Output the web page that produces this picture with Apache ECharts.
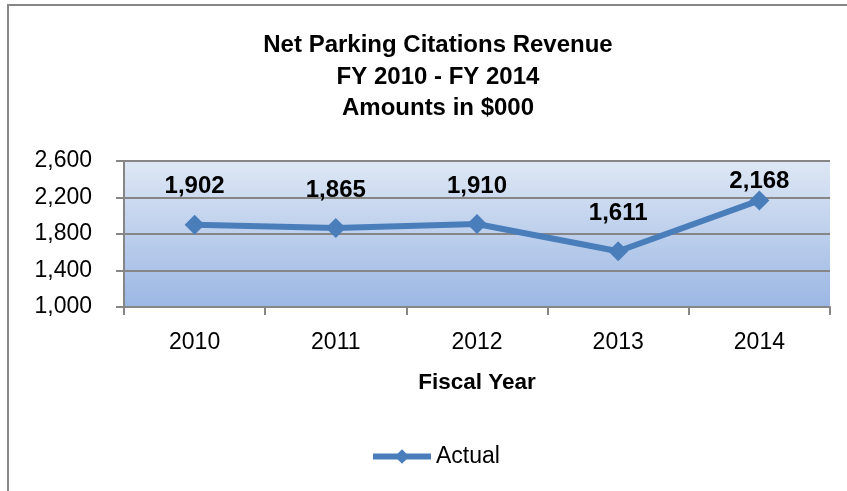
<!DOCTYPE html>
<html><head><meta charset="utf-8">
<script src="https://cdn.jsdelivr.net/npm/echarts@6/dist/echarts.min.js"></script>
<style>html,body{margin:0;padding:0;background:#fff}#c{width:847px;height:491px}</style>
</head><body><div id="c"></div>
<script>
const categories = ['2010','2011','2012','2013','2014'];
const actual = [1902, 1865, 1910, 1611, 2168];
const labelOffsets = [0, 0, 0, 0, 1]; // index flags: 1 = label drawn closer
const yMin = 1000, yMax = 2600, yStep = 400;
const titleLines = ['Net Parking Citations Revenue', 'FY 2010 - FY 2014', 'Amounts in $000'];
const xName = 'Fiscal Year';
const seriesName = 'Actual';

const FONT = '"Liberation Sans", Arial, sans-serif';
const chart = echarts.init(document.getElementById('c'), null, {renderer: 'canvas'});
chart.setOption({
  animation: false,
  backgroundColor: '#fff',
  graphic: [{
    type: 'rect', shape: {x: 8, y: 5, width: 860, height: 500},
    style: {fill: 'none', stroke: '#868686', lineWidth: 2}, silent: true, z: -1
  }],
  title: {
    text: titleLines.join('\n'), left: 433, top: 25, textAlign: 'center',
    textStyle: {fontFamily: FONT, fontSize: 24, fontWeight: 'bold', color: '#000', lineHeight: 31.5, align: 'center'}
  },
  legend: {
    data: [seriesName], bottom: 18, left: 365, itemWidth: 58, itemHeight: 18, itemGap: 3,
    lineStyle: {width: 6},
    textStyle: {fontFamily: FONT, fontSize: 23, color: '#000'}
  },
  grid: {
    left: 124, right: 17, top: 161, bottom: 184, show: true, borderWidth: 0,
    backgroundColor: new echarts.graphic.LinearGradient(0, 0, 0, 1, [
      {offset: 0, color: '#dee7f4'}, {offset: 1, color: '#9bb7e4'}
    ])
  },
  xAxis: {
    type: 'category', data: categories, boundaryGap: true,
    name: xName, nameLocation: 'middle', nameGap: 64,
    nameTextStyle: {fontFamily: FONT, fontSize: 22.5, fontWeight: 'bold', color: '#000'},
    axisLine: {lineStyle: {color: '#868686', width: 2}},
    axisTick: {show: true, length: 8, lineStyle: {color: '#868686', width: 2}},
    axisLabel: {fontFamily: FONT, fontSize: 23, color: '#000', margin: 24}
  },
  yAxis: {
    type: 'value', min: yMin, max: yMax, interval: yStep,
    axisLine: {show: true, lineStyle: {color: '#868686', width: 2}},
    axisTick: {show: true, length: 8, lineStyle: {color: '#868686', width: 2}},
    splitLine: {lineStyle: {color: '#868686', width: 2}},
    axisLabel: {fontFamily: FONT, fontSize: 23, color: '#000', margin: 32,
      formatter: v => v.toLocaleString('en-US')}
  },
  series: [{
    name: seriesName, type: 'line', data: actual.map((v, i) => ({
      value: v,
      label: {distance: labelOffsets[i] ? -3 : 16}
    })),
    symbol: 'diamond', symbolSize: 20,
    lineStyle: {color: '#4a7ebb', width: 6},
    itemStyle: {color: '#4a7ebb'},
    label: {show: true, position: 'top', fontFamily: FONT, fontSize: 24, fontWeight: 'bold', color: '#000',
      formatter: p => p.value.toLocaleString('en-US')}
  }]
});
</script></body></html>
